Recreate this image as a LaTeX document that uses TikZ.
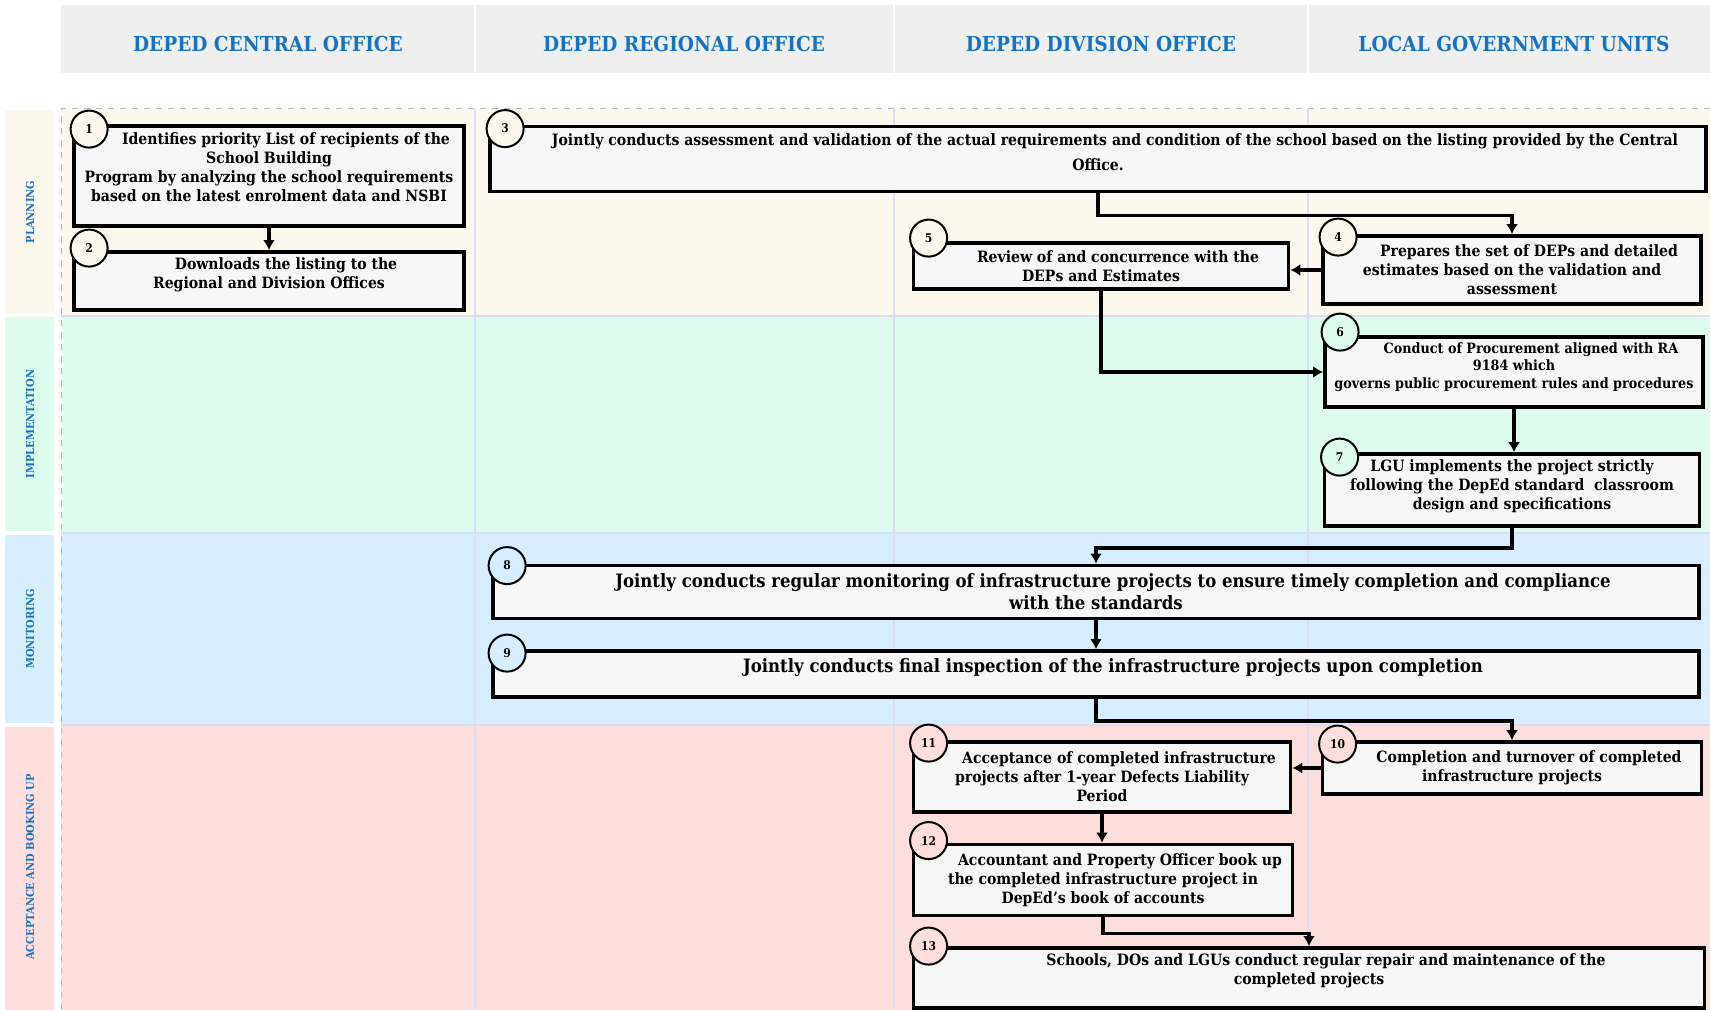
\documentclass[tikz,border=0pt]{standalone}
\usepackage{fontspec}
\setmainfont{DejaVu Serif Condensed}
\usepackage{tikz}
\usetikzlibrary{calc}
\usetikzlibrary{arrows.meta}
\definecolor{headblue}{RGB}{22,114,196}
\definecolor{headgray}{RGB}{239,239,239}
\definecolor{planbg}{RGB}{253,248,238}
\definecolor{implbg}{RGB}{221,252,238}
\definecolor{monbg}{RGB}{214,238,255}
\definecolor{accbg}{RGB}{253,222,221}
\definecolor{gridline}{RGB}{220,220,245}
\definecolor{boxfill}{RGB}{247,247,247}
\newcommand{\widthstep}{189pt}
\newcommand{\widthwide}{603pt}
\newcommand{\firstpad}{\hspace*{17pt}}
\newcommand{\textlift}[1]{\rule[-#1]{0pt}{#1}}
\tikzset{
    stepbox/.style={draw, rectangle, line width=1.9pt, fill=boxfill, align=center, inner sep=2pt,
        font=\bfseries\fontsize{7.8}{9.5}\selectfont},
    narrow/.style={stepbox, minimum width=\widthstep},
    wide/.style={stepbox, minimum width=\widthwide},
    num/.style={draw, circle, line width=1pt, minimum size=18.5pt, inner sep=0pt,
        font=\bfseries\fontsize{6}{6}\selectfont},
    flow/.style={-{Latex[length=5pt,width=6pt]}, line width=1.8pt},
    colhead/.style={text=headblue, font=\bfseries\fontsize{10.3}{12}\selectfont},
    lanelabel/.style={text=headblue, rotate=90, font=\bfseries\fontsize{5.5}{6}\selectfont}
}

\begin{document}
\begin{tikzpicture}[x=0.5pt, y=-0.5pt]
    \fill[white] (0,0) rectangle (1710,1010);
    \useasboundingbox (0,0) rectangle (1710,1010);

    % header row
    \fill[headgray] (61,5) rectangle (1710,73);
    \draw[white, line width=1pt] (475,5) -- (475,73) (894,5) -- (894,73) (1308,5) -- (1308,73);
    \node[colhead] (hco) at (268,44) {DEPED CENTRAL OFFICE};
    \node[colhead] (hro) at (684,44) {DEPED REGIONAL OFFICE};
    \node[colhead] (hdo) at (1101,44) {DEPED DIVISION OFFICE};
    \node[colhead] (hlgu) at (1514,44) {LOCAL GOVERNMENT UNITS};

    % lanes
    \fill[planbg] (61,109) rectangle (1710,316);
    \fill[implbg] (61,316) rectangle (1710,533);
    \fill[monbg] (61,533) rectangle (1710,725);
    \fill[accbg] (61,725) rectangle (1710,1010);
    \fill[planbg] (5,110) rectangle (54,314);
    \fill[implbg] (5,317) rectangle (54,531);
    \fill[monbg] (5,535) rectangle (54,723);
    \fill[accbg] (5,727) rectangle (54,1010);
    \draw[gridline, line width=0.6pt]
        (475,109) -- (475,1010) (894,109) -- (894,1010) (1308,109) -- (1308,1010)
        (61,316) -- (1710,316) (61,533) -- (1710,533) (61,725) -- (1710,725);
    \draw[gray!55, dashed, line width=0.5pt] (61,1010) -- (61,109) -- (1710,109);

    \node[lanelabel] (lplan) at (30,212) {PLANNING};
    \node[lanelabel] (limpl) at (30,424) {IMPLEMENTATION};
    \node[lanelabel] (lmon) at (30,629) {MONITORING};
    \node[lanelabel] (lacc) at (30,867) {ACCEPTANCE AND BOOKING UP};

    % planning
    \node[narrow, minimum width=195pt, minimum height=50pt] (s1) at (269,176)
        {\firstpad Identifies priority List of recipients of the\\School Building\\Program by analyzing the school requirements\\based on the latest enrolment data and NSBI\textlift{9pt}};
    \node[narrow, minimum width=195pt, minimum height=29pt] (s2) at (269,281)
        {\firstpad Downloads the listing to the\\Regional and Division Offices\textlift{8pt}};
    \node[wide, minimum width=608pt, minimum height=32.5pt, font=\bfseries\fontsize{7.8}{12.5}\selectfont] (s3) at (1098,159)
        {\firstpad Jointly conducts assessment and validation of the actual requirements and condition of the school based on the listing provided by the Central\\Office.\textlift{7pt}};
    \node[narrow, minimum height=34pt] (s4) at (1512,270)
        {\firstpad Prepares the set of DEPs and detailed\\estimates based on the validation and\\assessment};
    \node[narrow, minimum width=187.5pt, minimum height=23pt] (s5) at (1101,266)
        {\firstpad Review of and concurrence with the\\DEPs and Estimates};

    % implementation
    \node[narrow, minimum height=35pt, font=\bfseries\fontsize{7.1}{8.7}\selectfont] (s6) at (1514,372)
        {\firstpad Conduct of Procurement aligned with RA\\9184 which\\governs public procurement rules and procedures\textlift{6.5pt}};
    \node[narrow, minimum width=187.5pt, minimum height=36pt] (s7) at (1512,490)
        {LGU implements the project strictly\\following the DepEd standard~ classroom\\design and specifications\textlift{5pt}};

    % monitoring
    \node[wide, minimum height=26.5pt, font=\bfseries\fontsize{9.2}{10.9}\selectfont] (s8) at (1096,592)
        {\firstpad Jointly conducts regular monitoring of infrastructure projects to ensure timely completion and compliance\\with the standards};
    \node[wide, minimum height=23pt, font=\bfseries\fontsize{9.2}{10.9}\selectfont] (s9) at (1096,674)
        {\firstpad Jointly conducts final inspection of the infrastructure projects upon completion\textlift{8pt}};

    % acceptance and booking up
    \node[narrow, minimum width=189.5pt, minimum height=26pt] (s10) at (1512,768)
        {\firstpad Completion and turnover of completed\\infrastructure projects};
    \node[narrow, minimum width=188.5pt, minimum height=35pt] (s11) at (1102,777)
        {\firstpad Acceptance of completed infrastructure\\projects after 1-year Defects Liability\\Period};
    \node[narrow, minimum width=189.5pt, minimum height=35.5pt] (s12) at (1103,880)
        {\firstpad Accountant and Property Officer book up\\the completed infrastructure project in\\DepEd’s book of accounts};
    \node[wide, minimum width=395.5pt, minimum height=30pt] (s13) at (1309,978)
        {\firstpad Schools, DOs and LGUs conduct regular repair and maintenance of the\\completed projects\textlift{9pt}};

    % step numbers
    \node[num, fill=planbg] (n1) at ($(s1.north west)+(17,5)$) {1};
    \node[num, fill=planbg] (n2) at ($(s2.north west)+(17,-2)$) {2};
    \node[num, fill=planbg] (n3) at ($(s3.north west)+(17,4)$) {3};
    \node[num, fill=planbg] (n4) at ($(s4.north west)+(17,3)$) {4};
    \node[num, fill=planbg] (n5) at ($(s5.north west)+(17,-3)$) {5};
    \node[num, fill=implbg] (n6) at ($(s6.north west)+(17,-3)$) {6};
    \node[num, fill=implbg] (n7) at ($(s7.north west)+(17,5)$) {7};
    \node[num, fill=monbg] (n8) at ($(s8.north west)+(16,2)$) {8};
    \node[num, fill=monbg] (n9) at ($(s9.north west)+(16,4)$) {9};
    \node[num, fill=accbg] (n10) at ($(s10.north west)+(17,4)$) {10};
    \node[num, fill=accbg] (n11) at ($(s11.north west)+(17,3)$) {11};
    \node[num, fill=accbg] (n12) at ($(s12.north west)+(17,-2)$) {12};
    \node[num, fill=accbg] (n13) at ($(s13.north west)+(17,0)$) {13};

    % flow
    \draw[flow] (s1) -- (s2);
    \draw[flow] (s3.south) -- ++(0,22) -| (s4.north);
    \draw[flow] (s4.west) -- (s4.west -| s5.east);
    \draw[flow] (s5.south) |- (s6.west);
    \draw[flow] (s6.south) -- (s6.south |- s7.north);
    \draw[flow] (s7.south) -- ++(0,20) -| (s8.north);
    \draw[flow] (s8) -- (s9);
    \draw[flow] (s9.south) -- ++(0,22) -| (s10.north);
    \draw[flow] (s10.west) -- (s10.west -| s11.east);
    \draw[flow] (s11.south) -- (s11.south |- s12.north);
    \draw[flow] (s12.south) -- ++(0,16) -| (s13.north);
\end{tikzpicture}
\end{document}
